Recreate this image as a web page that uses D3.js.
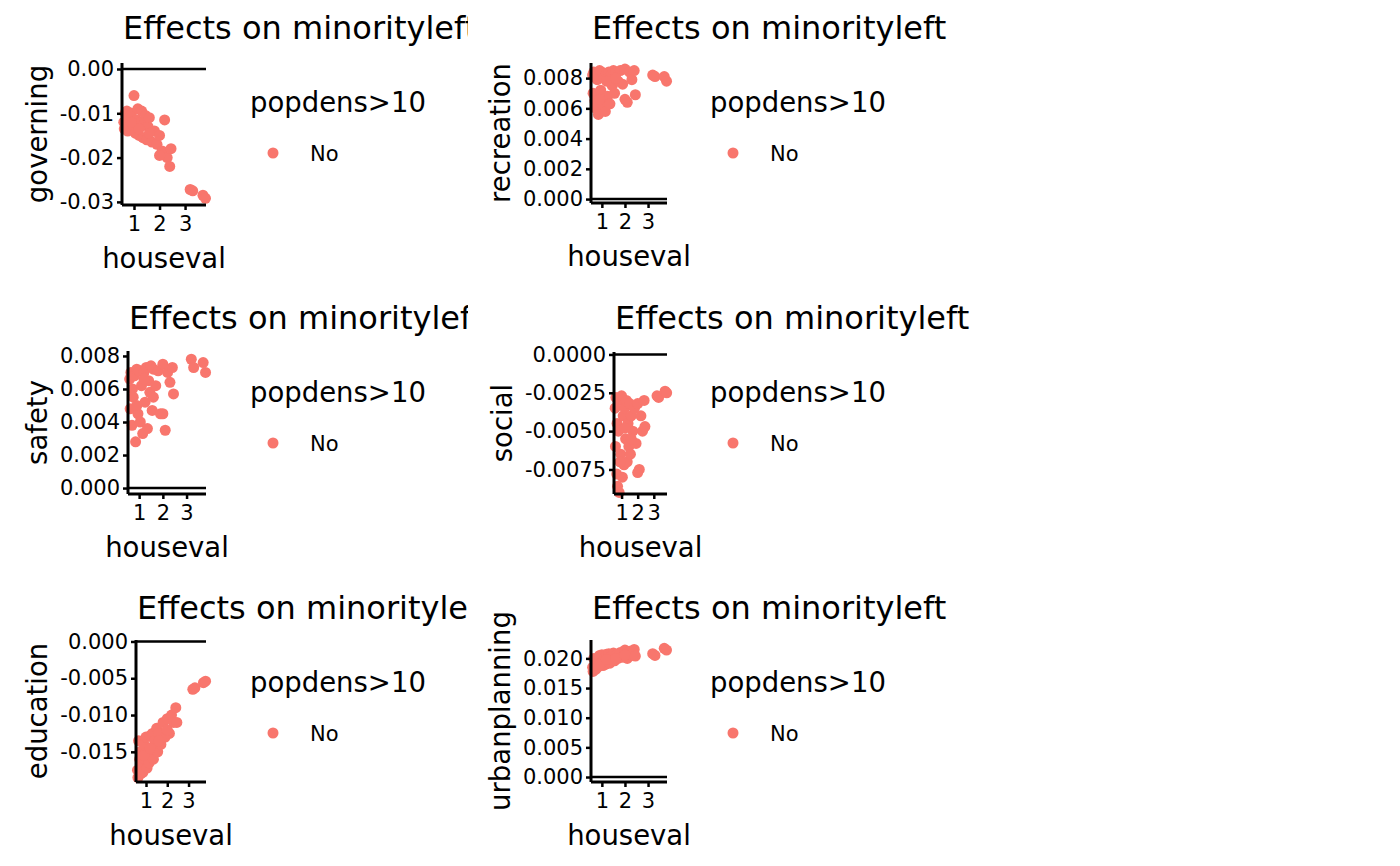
<!DOCTYPE html>
<html>
<head>
<meta charset="utf-8">
<script src="https://cdn.jsdelivr.net/npm/d3@7"></script>
<style>
  body { margin: 0; background: #fff; }
  text { font-family: "DejaVu Sans", sans-serif; fill: #000; }
</style>
</head>
<body>
<svg id="chart" width="1400" height="866"></svg>
<script>
// shared x values (houseval)
var houseval = [0.6, 0.62, 0.65, 0.7, 0.72, 0.75, 0.8, 0.85, 0.9, 0.95, 1.0, 1.05, 1.1, 1.15, 1.2, 1.25, 1.3, 1.35, 1.4, 1.45,
                1.5, 1.55, 1.6, 1.7, 1.8, 1.9, 2.0, 2.1, 2.2, 2.3, 2.4, 0.9, 1.2, 1.6, 2.0, 2.45, 3.2, 3.3, 3.7, 3.8];

var governing = [-0.012, -0.0135, -0.010, -0.0125, -0.0095, -0.014, -0.011, -0.013, -0.010, -0.0125, -0.006, -0.0145, -0.0115, -0.009, -0.015, -0.012, -0.0095, -0.0155, -0.0125, -0.0105,
                 -0.016, -0.013, -0.011, -0.0165, -0.014, -0.017, -0.015, -0.0185, -0.0115, -0.020, -0.022, -0.012, -0.0135, -0.0145, -0.0195, -0.018, -0.0272, -0.0275, -0.0285, -0.0292];
var recreation = [0.0082, 0.0070, 0.0084, 0.0065, 0.0083, 0.0060, 0.0079, 0.0056, 0.0085, 0.0072, 0.0084, 0.0062, 0.0080, 0.0058, 0.0083, 0.0068, 0.0084, 0.0063, 0.0082, 0.0075,
                  0.0085, 0.0070, 0.0084, 0.0078, 0.0085, 0.0076, 0.0086, 0.0064, 0.0084, 0.0079, 0.0085, 0.0066, 0.0078, 0.0080, 0.0066, 0.0069, 0.0082, 0.0081, 0.0081, 0.0078];
var safety = [0.0066, 0.0048, 0.0070, 0.0038, 0.0060, 0.0055, 0.0068, 0.0028, 0.0072, 0.0045, 0.0071, 0.0040, 0.0062, 0.0033, 0.0070, 0.0052, 0.0073, 0.0036, 0.0065, 0.0058,
              0.0074, 0.0047, 0.0072, 0.0062, 0.0071, 0.0045, 0.0075, 0.0035, 0.0070, 0.0064, 0.0073, 0.0050, 0.0066, 0.0055, 0.0045, 0.0057, 0.0078, 0.0073, 0.0076, 0.0070];
var social = [-0.0035, -0.0060, -0.0028, -0.0078, -0.0045, -0.0086, -0.0050, -0.0090, -0.0030, -0.0065, -0.0027, -0.0080, -0.0040, -0.0072, -0.0035, -0.0055, -0.0030, -0.0070, -0.0045, -0.0060,
              -0.0032, -0.0065, -0.0040, -0.0050, -0.0035, -0.0058, -0.0032, -0.0075, -0.0040, -0.0050, -0.0030, -0.0070, -0.0048, -0.0055, -0.0077, -0.0047, -0.0027, -0.0028, -0.0024, -0.0025];
var education = [-0.0175, -0.0185, -0.0135, -0.0160, -0.0150, -0.0180, -0.0165, -0.0178, -0.0140, -0.0160, -0.0130, -0.0172, -0.0150, -0.0165, -0.0128, -0.0155, -0.0125, -0.0160, -0.0135, -0.0145,
                 -0.0118, -0.0150, -0.0125, -0.0140, -0.0110, -0.0130, -0.0105, -0.0125, -0.0100, -0.0110, -0.0090, -0.0155, -0.0145, -0.0135, -0.0120, -0.0110, -0.0065, -0.0063, -0.0056, -0.0054];
var urbanplanning = [0.0185, 0.0178, 0.0200, 0.0190, 0.0195, 0.0182, 0.0198, 0.0186, 0.0205, 0.0192, 0.0206, 0.0188, 0.0200, 0.0190, 0.0207, 0.0195, 0.0208, 0.0192, 0.0203, 0.0198,
                     0.0209, 0.0196, 0.0205, 0.0200, 0.0210, 0.0202, 0.0214, 0.0200, 0.0212, 0.0205, 0.0215, 0.0190, 0.0198, 0.0200, 0.0206, 0.0204, 0.0208, 0.0205, 0.0217, 0.0214];

var xTicks = [1, 2, 3];
var xDomain = [0.53, 3.82];
var legendTitle = "popdens>10";
var legendLabels = ["No"];
var title = "Effects on minorityleft";
var pointColor = "#F8766D";

// panel layout: axis x, plot right, plot top/bottom in px, y domain (top,bottom), ticks
var panels = [
  { name: "governing", values: governing, col: 0, row: 0, ax: 122, right: 206, top: 63, bottom: 205,
    yDomain: [0.00135, -0.0307], yTicks: [0, -0.01, -0.02, -0.03], fmt: ".2f" },
  { name: "recreation", values: recreation, col: 1, row: 0, ax: 591, right: 667, top: 63, bottom: 203,
    yDomain: [0.0090, -0.00026], yTicks: [0, 0.002, 0.004, 0.006, 0.008], fmt: ".3f" },
  { name: "safety", values: safety, col: 0, row: 1, ax: 128, right: 206, top: 351, bottom: 494,
    yDomain: [0.0083, -0.00036], yTicks: [0, 0.002, 0.004, 0.006, 0.008], fmt: ".3f" },
  { name: "social", values: social, col: 1, row: 1, ax: 614, right: 667, top: 352, bottom: 494,
    yDomain: [0.00016, -0.0091], yTicks: [0, -0.0025, -0.005, -0.0075], fmt: ".4f" },
  { name: "education", values: education, col: 0, row: 2, ax: 136, right: 206, top: 640, bottom: 782,
    yDomain: [0.0002, -0.0191], yTicks: [0, -0.005, -0.01, -0.015], fmt: ".3f" },
  { name: "urbanplanning", values: urbanplanning, col: 1, row: 2, ax: 591, right: 667, top: 640, bottom: 782,
    yDomain: [0.0231, -0.00084], yTicks: [0, 0.005, 0.01, 0.015, 0.02], fmt: ".3f" }
];

var svg = d3.select("#chart");
var defs = svg.append("defs");
defs.append("clipPath").attr("id", "leftClip")
  .append("rect").attr("x", 0).attr("y", 0).attr("width", 468).attr("height", 866);

var rowTop = [0, 290, 580];
var colLeft = [0, 470];

panels.forEach(function (p) {
  var g = svg.append("g");
  var x = d3.scaleLinear().domain(xDomain).range([p.ax, p.right]);
  var y = d3.scaleLinear().domain(p.yDomain).range([p.top, p.bottom]);
  var fmt = d3.format(p.fmt);
  var minus = function (v) { return fmt(v).replace("−", "-"); };
  var base = rowTop[p.row];

  // title
  var t = g.append("text").attr("x", p.ax + 1).attr("y", base + 39)
    .attr("font-size", 32).text(title);
  if (p.col === 0) t.attr("clip-path", "url(#leftClip)");

  // reference line at zero
  g.append("line").attr("x1", p.ax).attr("x2", p.right)
    .attr("y1", y(0)).attr("y2", y(0)).attr("stroke", "#000").attr("stroke-width", 2.5);

  // points
  g.append("g").selectAll("circle").data(houseval).join("circle")
    .attr("cx", function (d) { return x(d); })
    .attr("cy", function (d, i) { return y(p.values[i]); })
    .attr("r", 5.5).attr("fill", pointColor);

  // y axis
  var ya = g.append("g").attr("transform", "translate(" + p.ax + ",0)")
    .call(d3.axisLeft(y).tickValues(p.yTicks).tickFormat(minus).tickSize(5).tickPadding(3));
  ya.select(".domain").attr("d", "M0," + p.top + "V" + p.bottom).attr("stroke-width", 3);
  ya.selectAll(".tick line").attr("stroke-width", 2.5);
  ya.selectAll(".tick text").attr("font-size", 21).attr("font-family", "DejaVu Sans").attr("fill", "#000");

  // x axis
  var xa = g.append("g").attr("transform", "translate(0," + p.bottom + ")")
    .call(d3.axisBottom(x).tickValues(xTicks).tickFormat(d3.format("d")).tickSize(5).tickPadding(6));
  xa.select(".domain").attr("d", "M" + p.ax + ",0H" + p.right).attr("stroke-width", 3);
  xa.selectAll(".tick line").attr("stroke-width", 2.5);
  xa.selectAll(".tick text").attr("font-size", 21).attr("font-family", "DejaVu Sans").attr("fill", "#000");

  // axis titles
  g.append("text").attr("x", (p.ax + p.right) / 2).attr("y", p.bottom + 63)
    .attr("text-anchor", "middle").attr("font-size", 27.5).text("houseval");
  var minLeft = d3.min(ya.selectAll(".tick text").nodes(), function (n) {
    return n.getBBox().x + p.ax;
  });
  g.append("text")
    .attr("transform", "translate(" + (minLeft - 13) + "," + ((p.top + p.bottom) / 2) + ") rotate(-90)")
    .attr("text-anchor", "middle").attr("font-size", 27.5).text(p.name);

  // legend
  var lx = colLeft[p.col] + (p.col === 0 ? 250 : 240);
  g.append("text").attr("x", lx).attr("y", base + 112).attr("font-size", 27.5).text(legendTitle);
  legendLabels.forEach(function (lab, i) {
    g.append("circle").attr("cx", lx + 23).attr("cy", base + 153 + i * 30).attr("r", 5.5).attr("fill", pointColor);
    g.append("text").attr("x", lx + 60).attr("y", base + 161 + i * 30).attr("font-size", 21).text(lab);
  });
});
</script>
</body>
</html>
